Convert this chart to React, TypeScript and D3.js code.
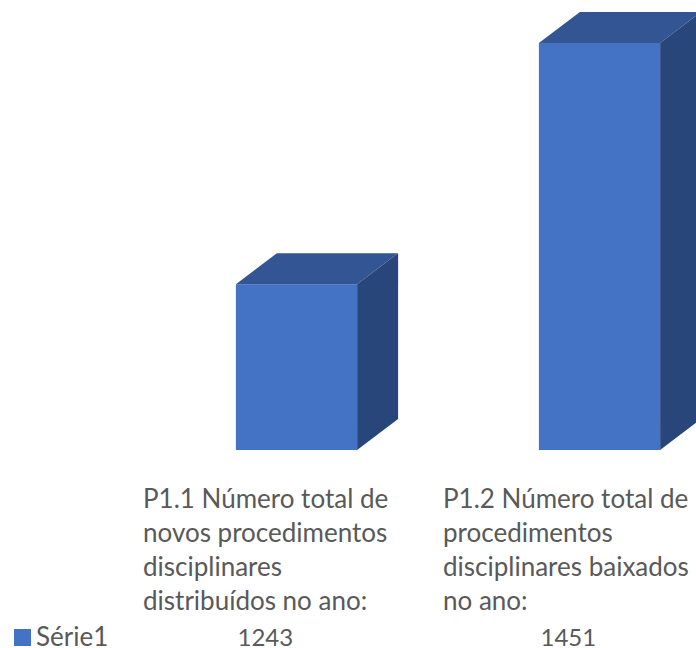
import React from "react";
import * as d3 from "d3";

const categories = ["P1.1", "P1.2"];
const categoryLines = [
  ["P1.1 Número total de", "novos procedimentos", "disciplinares", "distribuídos no ano:"],
  ["P1.2 Número total de", "procedimentos", "disciplinares baixados", "no ano:"],
];
const values = [1243, 1451];
const seriesName = "Série1";

const W = 696;
const H = 648;
const FONT = "Lato, Carlito, Calibri, sans-serif";
const TEXT = "#595959";
const FRONT = "#4472c4";
const TOP = "#335593";
const SIDE = "#284679";
const DX = 41;
const DY = 31;
const LABEL_LEFT = [143, 443];

export default function App() {
  const x = d3.scaleBand<string>().domain(categories).range([145, 751]).paddingInner(0.6).paddingOuter(0.3);
  const y = d3.scaleLinear().domain([1100, 1451]).range([450, 43]);
  const bw = x.bandwidth();
  const poly = d3.line();
  return (
    <svg width={W} height={H} style={{ position: "absolute", left: 0, top: 0, background: "#fff" }}>
      {categories.map((c, i) => {
        const x0 = x(c)!;
        const x1 = x0 + bw;
        const yT = y(values[i]);
        const yB = y(1100);
        const top = poly([[x0, yT], [x0 + DX, yT - DY], [x1 + DX, yT - DY], [x1, yT]])! + "Z";
        const side = poly([[x1, yT], [x1 + DX, yT - DY], [x1 + DX, yB - DY], [x1, yB]])! + "Z";
        return (
          <g key={c}>
            <path d={top} fill={TOP} />
            <path d={side} fill={SIDE} />
            <rect x={x0} y={yT} width={bw} height={yB - yT} fill={FRONT} />
          </g>
        );
      })}
      <g fontFamily={FONT} fontSize={26} fill={TEXT}>
        {categories.map((c, i) => (
          <g key={c}>
            {categoryLines[i].map((l, j) => (
              <text key={j} x={LABEL_LEFT[i]} y={508 + j * 34}>{l}</text>
            ))}
            <text x={x(c)! + bw / 2 - 59} y={646} fontSize={24}>{values[i]}</text>
          </g>
        ))}
        <rect x={14} y={629} width={17} height={17} fill={FRONT} />
        <text x={36} y={646}>{seriesName}</text>
      </g>
    </svg>
  );
}
